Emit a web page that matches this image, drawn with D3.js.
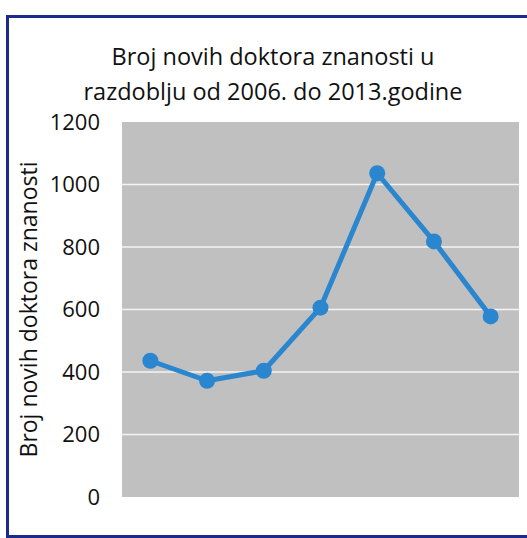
<!DOCTYPE html>
<html>
<head>
<meta charset="utf-8">
<script src="https://cdn.jsdelivr.net/npm/d3@7"></script>
<style>
  body { margin: 0; background: #fff; }
  svg { display: block; font-family: 'Open Sans', sans-serif; }
</style>
</head>
<body>
<script>
// data
var years = ['2007', '2008', '2009', '2010', '2011', '2012', '2013']
var doktori = [436, 372, 404, 606, 1036, 818, 578]
var yTicks = [0, 200, 400, 600, 800, 1000, 1200]
var titleLines = ['Broj novih doktora znanosti u', 'razdoblju od 2006. do 2013.godine']
var yLabel = 'Broj novih doktora znanosti'

var width = 527
var height = 538
var margin = { top: 122, right: 10, bottom: 40, left: 122 }
var plotW = 519 - margin.left
var plotH = 497 - margin.top

var svg = d3.select('body').append('svg')
    .attr('width', width)
    .attr('height', height)

// frame of the chart (right side runs off the page)
svg.append('path')
    .attr('d', 'M' + (width + 5) + ',16.5 H7.5 V536.5 H' + (width + 5))
    .style('fill', 'none')
    .style('stroke', '#1c2a8c')
    .style('stroke-width', 3)

var title = svg.append('text')
    .attr('text-anchor', 'middle')
    .style('font-size', '23.5px')
    .style('fill', '#111')
title.selectAll('tspan')
    .data(titleLines)
    .enter().append('tspan')
    .attr('x', 273)
    .attr('y', function(d, i) { return 65 + i * 35 })
    .text(function(d) { return d })

var x = d3.scaleBand()
    .domain(years)
    .range([0, plotW])

var y = d3.scaleLinear()
    .domain([0, 1200])
    .range([plotH, 0])

var g = svg.append('g')
    .attr('transform', 'translate(' + margin.left + ',' + margin.top + ')')

g.append('rect')
    .attr('width', plotW)
    .attr('height', plotH)
    .style('fill', '#c1c0c1')

g.append('g')
    .attr('class', 'grid')
    .selectAll('line')
    .data(yTicks.filter(function(d) { return d > 0 && d < 1200 }))
    .enter().append('line')
    .attr('x1', 0)
    .attr('x2', plotW)
    .attr('y1', function(d) { return y(d) })
    .attr('y2', function(d) { return y(d) })
    .style('stroke', '#f4f4f4')
    .style('stroke-width', 1.5)

var yAxis = g.append('g')
    .call(d3.axisLeft(y).tickValues(yTicks).tickFormat(d3.format('d')).tickSize(0).tickPadding(22))
yAxis.select('.domain').remove()
yAxis.selectAll('text')
    .style('font-size', '22px')
    .style('font-family', "'Open Sans', sans-serif")
    .style('fill', '#111')

svg.append('text')
    .attr('transform', 'translate(37,' + (margin.top + plotH / 2) + ') rotate(-90)')
    .attr('text-anchor', 'middle')
    .style('font-size', '23px')
    .style('fill', '#111')
    .text(yLabel)

var line = d3.line()
    .x(function(d, i) { return x(years[i]) + x.bandwidth() / 2 })
    .y(function(d) { return y(d) })

g.append('path')
    .datum(doktori)
    .attr('d', line)
    .style('fill', 'none')
    .style('stroke', '#2a86cf')
    .style('stroke-width', 5)
    .style('stroke-linejoin', 'round')

g.selectAll('circle')
    .data(doktori)
    .enter().append('circle')
    .attr('cx', function(d, i) { return x(years[i]) + x.bandwidth() / 2 })
    .attr('cy', function(d) { return y(d) })
    .attr('r', 8)
    .style('fill', '#2a86cf')
</script>
</body>
</html>
